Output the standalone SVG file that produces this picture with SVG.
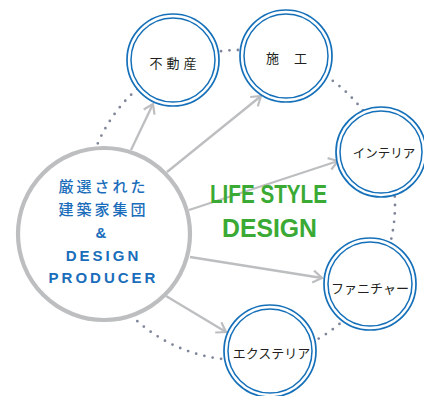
<svg xmlns="http://www.w3.org/2000/svg" width="424" height="396" viewBox="0 0 424 396">
<style>
.ring{fill:#fff;stroke:#1570b9;stroke-width:1.7}
.inner{fill:none;stroke:#1570b9;stroke-width:1.5}
.lbl{font-family:"Noto Sans CJK JP","Liberation Sans",sans-serif;font-size:13px;fill:#231f20;text-anchor:middle;dominant-baseline:central}
.conn{stroke:#bcbec0;stroke-width:2.3;fill:none;marker-end:url(#arr)}
.btxt{font-family:"Liberation Sans","Noto Sans CJK JP",sans-serif;font-size:15px;font-weight:bold;fill:#1a6dba;text-anchor:middle;letter-spacing:3px}
.jtxt{font-family:"Noto Sans CJK JP",sans-serif;font-weight:500}
.green{font-family:"Liberation Sans",Arial,sans-serif;font-weight:bold;font-size:25px;fill:#3aaa35;text-anchor:middle}
</style>
<defs>
<marker id="arr" markerUnits="userSpaceOnUse" viewBox="-12 -8 14 16" refX="0" refY="0" markerWidth="14" markerHeight="16" orient="auto" overflow="visible">
<path d="M-9,-6 L0,0 L-9,6" fill="none" stroke="#bcbec0" stroke-width="2.2"/>
</marker>
</defs>
<circle id="dotted-ring" cx="240" cy="205" r="155" fill="none" stroke="#80869a" stroke-width="2.8" stroke-linecap="round" pathLength="115" stroke-dasharray="0 1"/>
<g id="connectors">
<line class="conn" x1="131" y1="150" x2="153" y2="104"/>
<line class="conn" x1="167" y1="172" x2="261" y2="96"/>
<line class="conn" x1="189" y1="210" x2="338" y2="161"/>
<line class="conn" x1="190" y1="257" x2="322" y2="278"/>
<line class="conn" x1="166" y1="296" x2="226" y2="332"/>
</g>
<g id="center">
<circle cx="104" cy="234" r="86" fill="#fff" stroke="#bcbec0" stroke-width="4.2"/>
<text class="btxt jtxt" x="103.5" y="192">厳選された</text>
<text class="btxt jtxt" x="103.5" y="215">建築家集団</text>
<text class="btxt" x="102.5" y="238">&amp;</text>
<text class="btxt" x="103.5" y="260.5">DESIGN</text>
<text class="btxt" x="103.5" y="282.5">PRODUCER</text>
</g>
<g id="fudosan">
<circle class="ring" cx="173" cy="60" r="46"/><circle class="inner" cx="173" cy="60" r="42"/>
<text class="lbl" x="175" y="62" style="letter-spacing:4px">不動産</text>
</g>
<g id="seko">
<circle class="ring" cx="286" cy="56" r="46"/><circle class="inner" cx="286" cy="56" r="42"/>
<text class="lbl" x="294" y="57" style="letter-spacing:15px">施工</text>
</g>
<g id="interior">
<circle class="ring" cx="381" cy="152" r="45"/><circle class="inner" cx="381" cy="152" r="41"/>
<text class="lbl" x="384" y="152" style="font-size:12.5px">インテリア</text>
</g>
<g id="furniture">
<circle class="ring" cx="370" cy="284" r="46"/><circle class="inner" cx="370" cy="284" r="42"/>
<text class="lbl" x="370" y="287">ファニチャー</text>
</g>
<g id="exterior">
<circle class="ring" cx="270" cy="351" r="46"/><circle class="inner" cx="270" cy="351" r="42"/>
<text class="lbl" x="271.5" y="352">エクステリア</text>
</g>
<g id="title">
<text class="green" x="268.5" y="203" textLength="117" lengthAdjust="spacingAndGlyphs">LIFE STYLE</text>
<text class="green" x="269.5" y="237" textLength="95" lengthAdjust="spacingAndGlyphs">DESIGN</text>
</g>
</svg>
